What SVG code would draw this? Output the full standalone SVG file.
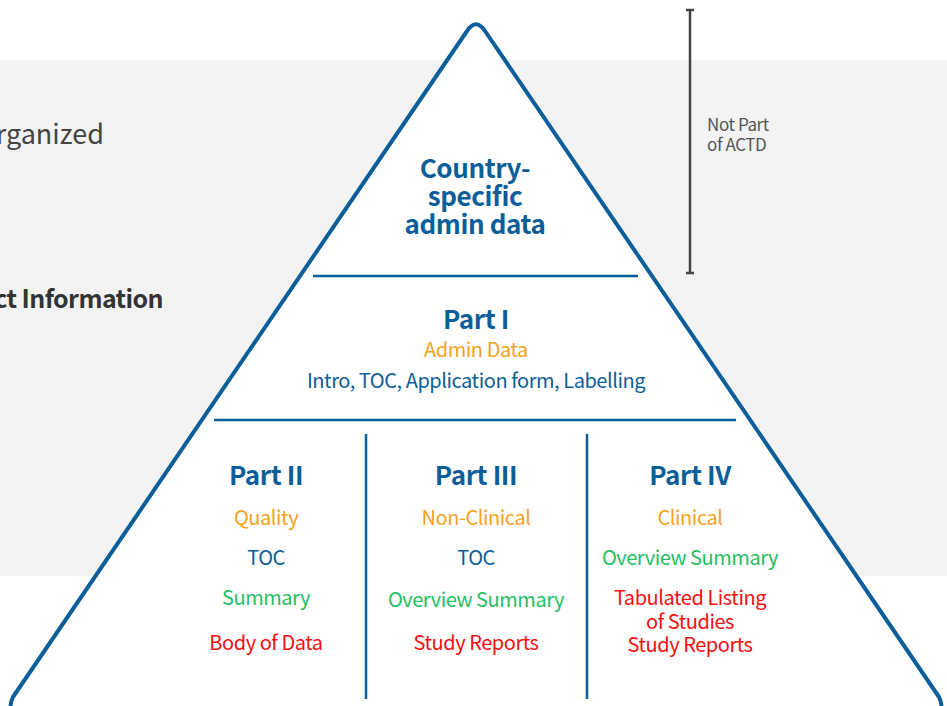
<svg xmlns="http://www.w3.org/2000/svg" width="947" height="706" viewBox="0 0 947 706">
<style>
text{font-family:"Noto Sans CJK KR","Noto Sans",sans-serif;}
.b{fill:#0b5e99;}
.h{font-weight:bold;font-size:26px;fill:#0b5e99;text-anchor:middle;letter-spacing:-0.4px;}
.t{font-size:20px;text-anchor:middle;letter-spacing:-0.45px;}
.o{fill:#f7a21b;}
.g{fill:#22c063;}
.r{fill:#f50f0f;}
.ln{stroke:#0b5e99;stroke-width:2.5;fill:none;}
</style>
<rect x="0" y="0" width="947" height="706" fill="#ffffff"/>
<rect x="0" y="60" width="947" height="516" fill="#f3f3f3"/>
<g id="side-labels">
<text x="104" y="144" font-size="27" fill="#444" text-anchor="end">rganized</text>
<text x="163" y="308" font-size="25" font-weight="bold" fill="#333" text-anchor="end" letter-spacing="-0.6">ct Information</text>
</g>
<g id="pyramid">
<path d="M 467,31 Q 476,17.5 485,31 L 939,697 Q 946,712 933,712 L 19,712 Q 6,712 13,697 Z" fill="#ffffff" stroke="#0b5e99" stroke-width="4" stroke-linejoin="round"/>
</g>
<g id="connectors">
<line class="ln" x1="313" y1="276" x2="638" y2="276"/>
<line class="ln" x1="214" y1="420" x2="736" y2="420"/>
<line class="ln" x1="366" y1="434" x2="366" y2="699"/>
<line class="ln" x1="587" y1="434" x2="587" y2="699"/>
</g>
<g id="bracket" stroke="#444" stroke-width="2.5">
<line x1="690" y1="10" x2="690" y2="273"/>
<line x1="686" y1="10" x2="694" y2="10"/>
<line x1="686" y1="273" x2="694" y2="273"/>
</g>
<g id="not-part">
<text x="707" y="131" font-size="17" fill="#555" letter-spacing="-0.4">Not Part</text>
<text x="707" y="151" font-size="17" fill="#555" letter-spacing="-0.4">of ACTD</text>
</g>
<g id="country">
<text class="h" x="475" y="178">Country-</text>
<text class="h" x="475" y="206">specific</text>
<text class="h" x="475" y="234">admin data</text>
</g>
<g id="part1">
<text class="h" x="476" y="329">Part I</text>
<text class="t o" x="476" y="357">Admin Data</text>
<text class="t b" x="476" y="388">Intro, TOC, Application form, Labelling</text>
</g>
<g id="part2">
<text class="h" x="266" y="485">Part II</text>
<text class="t o" x="266" y="525">Quality</text>
<text class="t b" x="266" y="565">TOC</text>
<text class="t g" x="266" y="605">Summary</text>
<text class="t r" x="266" y="650">Body of Data</text>
</g>
<g id="part3">
<text class="h" x="476" y="485">Part III</text>
<text class="t o" x="476" y="525">Non-Clinical</text>
<text class="t b" x="476" y="565">TOC</text>
<text class="t g" x="476" y="607">Overview Summary</text>
<text class="t r" x="476" y="650">Study Reports</text>
</g>
<g id="part4">
<text class="h" x="690" y="485">Part IV</text>
<text class="t o" x="690" y="525">Clinical</text>
<text class="t g" x="690" y="565">Overview Summary</text>
<text class="t r" x="690" y="605">Tabulated Listing</text>
<text class="t r" x="690" y="629">of Studies</text>
<text class="t r" x="690" y="652">Study Reports</text>
</g>
</svg>
